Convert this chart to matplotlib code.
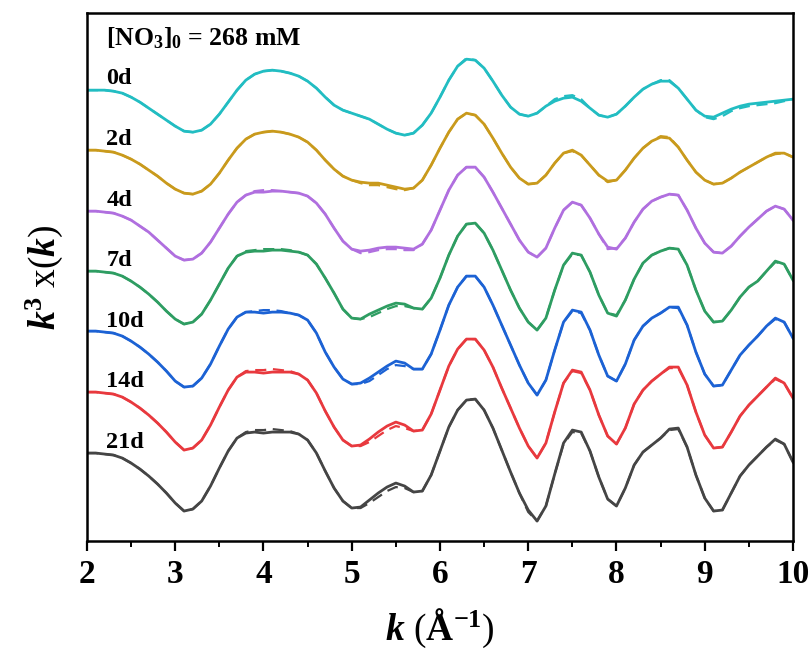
import numpy as np
import matplotlib
matplotlib.use("Agg")
import matplotlib.pyplot as plt

# stacked k3 chi(k) curves, arbitrary units (axis runs downward)
k = np.round(np.arange(2.0, 10.01, 0.1), 2)

labels = ["0d", "2d", "4d", "7d", "10d", "14d", "21d"]
colors = ["#22BDC2", "#C99A1C", "#B06FDF", "#2E9D62", "#1C62D4", "#E8393E", "#454545"]

exp_0d = [90, 90, 90, 91, 93, 97, 102, 108, 114, 120, 126, 131, 132, 130, 124, 114, 102, 90, 80, 74,
          71, 70, 71, 73, 76, 81, 88, 97, 105, 110, 113, 116, 119, 124, 129, 133, 135, 133, 125, 113,
          97, 80, 66, 59, 60, 68, 81, 95, 107, 114, 116, 113, 106, 101, 98, 97, 101, 108, 115, 117,
          114, 106, 97, 89, 84, 81, 81, 88, 99, 110, 116, 117, 113, 109, 106, 104, 103, 102, 101, 100, 99]
fit_0d = [90, 90, 90, 91, 93, 97, 102, 108, 114, 120, 126, 131, 132, 130, 124, 114, 102, 90, 80, 74,
          71, 70, 71, 73, 76, 81, 88, 97, 105, 110, 113, 116, 119, 124, 129, 133, 135, 133, 125, 113,
          97, 80, 66, 58, 60, 68, 81, 95, 107, 114, 116, 113, 106, 99, 96, 95, 99, 108, 115, 117,
          114, 106, 97, 89, 84, 80, 80, 88, 99, 110, 117, 119, 116, 111, 108, 106, 105, 104, 103, 101, 99]

exp_2d = [150, 150, 151, 152, 155, 159, 164, 170, 176, 183, 189, 193, 194, 191, 184, 173, 160, 148, 139, 134,
          132, 131, 132, 134, 137, 142, 150, 160, 169, 176, 180, 182, 183, 183, 185, 187, 189, 188, 180, 165,
          148, 132, 119, 113, 115, 124, 138, 153, 167, 178, 184, 183, 175, 163, 153, 150, 155, 165, 175, 181,
          180, 170, 158, 148, 141, 137, 138, 147, 160, 172, 180, 184, 183, 178, 172, 167, 162, 157, 153, 153, 157]
fit_2d = [150, 150, 151, 152, 155, 159, 164, 170, 176, 183, 189, 193, 194, 191, 184, 173, 160, 148, 139, 134,
          132, 131, 132, 134, 137, 142, 150, 160, 169, 176, 180, 183, 185, 185, 187, 189, 190, 188, 180, 165,
          148, 132, 119, 113, 115, 124, 138, 153, 167, 178, 184, 183, 175, 163, 153, 151, 155, 165, 175, 182,
          180, 170, 158, 148, 141, 136, 137, 147, 160, 172, 180, 184, 183, 178, 172, 167, 162, 157, 154, 153, 157]

exp_4d = [211, 211, 212, 213, 216, 220, 226, 232, 240, 248, 256, 260, 259, 253, 242, 228, 214, 202, 195, 192,
          192, 191, 191, 192, 193, 196, 203, 214, 228, 241, 249, 251, 250, 248, 247, 247, 248, 249, 244, 230,
          210, 190, 175, 167, 167, 177, 192, 208, 224, 240, 252, 257, 248, 228, 210, 202, 205, 218, 234, 247,
          249, 238, 222, 209, 201, 197, 194, 195, 210, 228, 243, 252, 253, 246, 236, 227, 219, 211, 206, 209, 220]
fit_4d = [211, 211, 212, 213, 216, 220, 226, 232, 240, 248, 256, 260, 259, 253, 242, 228, 214, 202, 195, 191,
          190, 190, 191, 192, 193, 196, 203, 214, 228, 241, 249, 253, 252, 250, 249, 249, 250, 250, 244, 230,
          210, 190, 175, 167, 167, 177, 192, 208, 224, 240, 252, 257, 248, 228, 210, 202, 205, 218, 234, 249,
          248, 238, 222, 209, 201, 197, 194, 195, 210, 228, 243, 252, 253, 246, 236, 227, 219, 211, 206, 209, 220]

exp_7d = [271, 271, 272, 273, 276, 281, 287, 294, 302, 311, 319, 324, 322, 314, 300, 284, 268, 256, 252, 251,
          251, 250, 250, 251, 252, 255, 264, 278, 293, 309, 318, 319, 314, 310, 306, 303, 304, 308, 309, 298,
          278, 255, 236, 224, 223, 233, 250, 270, 290, 308, 322, 330, 318, 290, 265, 253, 255, 272, 295, 313,
          316, 300, 279, 263, 255, 251, 248, 249, 265, 290, 311, 322, 321, 310, 297, 287, 281, 271, 261, 264, 280]
fit_7d = [271, 271, 272, 273, 276, 281, 287, 294, 302, 311, 319, 324, 322, 314, 300, 284, 268, 256, 251, 250,
          249, 249, 249, 250, 252, 255, 264, 278, 293, 309, 318, 319, 317, 313, 309, 306, 306, 308, 309, 298,
          278, 255, 236, 224, 223, 233, 250, 270, 290, 308, 322, 330, 318, 290, 265, 254, 255, 272, 295, 313,
          315, 300, 279, 263, 255, 251, 248, 249, 265, 290, 311, 322, 321, 310, 297, 287, 281, 271, 262, 264, 280]

exp_10d = [331, 331, 332, 333, 336, 341, 347, 354, 362, 371, 381, 387, 386, 378, 364, 346, 329, 317, 312, 312,
           313, 312, 312, 313, 315, 320, 333, 352, 367, 379, 384, 383, 378, 372, 366, 361, 363, 369, 369, 354,
           330, 305, 287, 276, 276, 287, 305, 325, 345, 365, 383, 395, 380, 350, 322, 310, 312, 330, 355, 376,
           381, 364, 340, 326, 318, 313, 307, 307, 325, 352, 374, 386, 385, 370, 355, 345, 336, 326, 318, 322, 338]
fit_10d = [331, 331, 332, 333, 336, 341, 347, 354, 362, 371, 381, 387, 386, 378, 364, 346, 329, 317, 312, 311,
           310, 310, 311, 313, 315, 320, 333, 352, 367, 379, 384, 384, 381, 375, 369, 365, 366, 369, 369, 354,
           330, 305, 287, 276, 276, 287, 305, 325, 345, 365, 383, 395, 380, 350, 322, 311, 313, 330, 355, 376,
           381, 364, 340, 326, 318, 313, 307, 308, 325, 352, 374, 386, 385, 370, 355, 345, 336, 326, 319, 322, 338]

exp_14d = [392, 392, 393, 394, 397, 402, 408, 415, 423, 432, 442, 450, 448, 440, 425, 407, 390, 377, 372, 372,
           373, 372, 372, 372, 374, 380, 393, 411, 427, 440, 446, 445, 439, 432, 426, 422, 425, 431, 430, 414,
           390, 366, 349, 339, 339, 350, 367, 388, 408, 428, 446, 458, 443, 412, 383, 370, 372, 390, 415, 436,
           444, 428, 404, 390, 381, 374, 367, 367, 385, 412, 435, 448, 447, 432, 416, 405, 396, 387, 378, 383, 398]
fit_14d = [392, 392, 393, 394, 397, 402, 408, 415, 423, 432, 442, 450, 448, 440, 425, 407, 390, 377, 371, 370,
           370, 369, 370, 371, 374, 380, 393, 411, 427, 440, 446, 446, 442, 436, 430, 426, 428, 431, 430, 414,
           390, 366, 349, 339, 339, 350, 367, 388, 408, 428, 446, 458, 443, 412, 383, 371, 373, 390, 415, 436,
           444, 428, 404, 390, 381, 374, 368, 368, 385, 412, 435, 448, 447, 432, 416, 405, 396, 387, 379, 383, 398]

exp_21d = [453, 453, 454, 455, 458, 463, 469, 476, 484, 493, 503, 511, 509, 501, 486, 468, 451, 438, 433, 432,
           433, 432, 432, 432, 434, 440, 453, 471, 488, 501, 508, 507, 500, 493, 487, 483, 486, 492, 491, 475,
           451, 427, 410, 400, 399, 410, 428, 450, 472, 493, 510, 521, 506, 474, 443, 430, 432, 451, 477, 499,
           506, 488, 465, 452, 445, 438, 429, 428, 447, 475, 498, 511, 510, 493, 476, 465, 456, 447, 439, 444, 462]
fit_21d = [453, 453, 454, 455, 458, 463, 469, 476, 484, 493, 503, 511, 509, 501, 486, 468, 451, 438, 432, 430,
           430, 429, 430, 431, 434, 440, 453, 471, 488, 501, 508, 508, 503, 497, 491, 487, 488, 492, 491, 475,
           451, 427, 410, 400, 399, 410, 428, 450, 472, 493, 512, 521, 506, 474, 444, 432, 433, 451, 477, 499,
           506, 488, 465, 452, 445, 438, 430, 429, 447, 475, 498, 511, 510, 493, 476, 465, 456, 447, 440, 444, 462]

experiment = [exp_0d, exp_2d, exp_4d, exp_7d, exp_10d, exp_14d, exp_21d]
fits = [fit_0d, fit_2d, fit_4d, fit_7d, fit_10d, fit_14d, fit_21d]

plt.rcParams["font.family"] = ["Liberation Serif", "DejaVu Serif"]
plt.rcParams["font.weight"] = "bold"
plt.rcParams["mathtext.fontset"] = "custom"
plt.rcParams["mathtext.rm"] = "Liberation Serif:bold"
plt.rcParams["mathtext.bf"] = "Liberation Serif:bold"
plt.rcParams["mathtext.it"] = "Liberation Serif:italic:bold"
plt.rcParams["mathtext.bfit"] = "Liberation Serif:italic:bold"

fig = plt.figure(figsize=(8.12, 6.59), dpi=100)
ax = fig.add_axes([0.1071, 0.179, 0.8695, 0.801])

for i in range(len(labels)):
    ax.plot(k, experiment[i], color=colors[i], lw=2.0, solid_joinstyle="round")
    ax.plot(k, fits[i], color=colors[i], lw=1.6, ls=(0, (5, 3)))

label_rows = [78, 139, 200, 260, 321, 381, 442]
for lab, yy in zip(labels, label_rows):
    ax.text(2.22, yy, lab, fontsize=17.5, fontweight="bold", va="center", ha="left")

ax.text(2.22, 38, r"[NO$_{\mathbf{3}}$]$_{\mathbf{0}}$ = 268 mM", fontsize=18.5,
        fontweight="bold", va="center", ha="left")

ax.set_xlim(2, 10)
ax.set_ylim(541, 13)
ax.set_xticks(range(2, 11))
ax.set_xticks(np.arange(2.5, 10, 1.0), minor=True)
ax.set_yticks([])
ax.tick_params(axis="x", which="major", direction="out", length=7, width=1.6,
               labelsize=24, pad=6)
ax.tick_params(axis="x", which="minor", direction="out", length=4, width=1.4)
for lbl in ax.get_xticklabels():
    lbl.set_fontweight("bold")
for sp in ax.spines.values():
    sp.set_linewidth(1.8)

ax.set_xlabel(r"$\mathbfit{k}$ ($\mathbf{\AA}^{\mathbf{-1}}$)", fontsize=27, labelpad=12)
ax.set_ylabel(r"$\mathbfit{k}^{\mathbf{3}}$ x($\mathbfit{k}$)", fontsize=27, labelpad=16)

fig.savefig("out.png", dpi=100)
